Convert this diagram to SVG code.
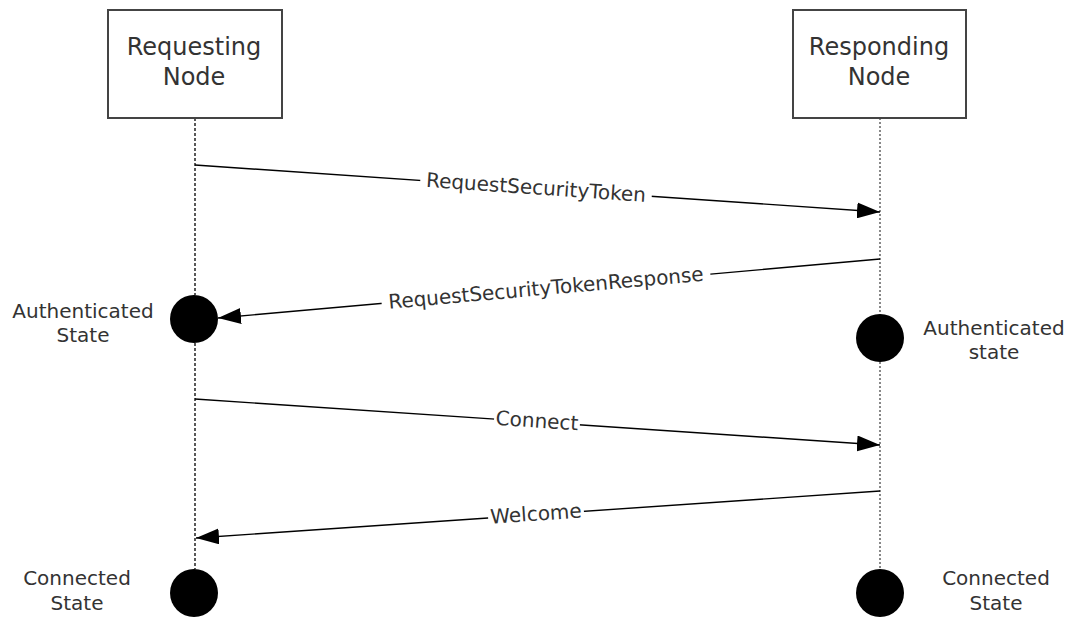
<svg xmlns="http://www.w3.org/2000/svg" width="1069" height="617" viewBox="0 0 1069 617">
<defs>
<marker id="ah" markerUnits="userSpaceOnUse" markerWidth="24" markerHeight="16" refX="23" refY="8" orient="auto">
<path d="M0,0 L23,8 L0,16 Z" fill="#000"/>
</marker>
</defs>
<style>
text{font-family:"DejaVu Sans",Verdana,sans-serif;fill:#333}
.lbl{font-size:20px;text-anchor:middle}
.box{fill:#fff;stroke:#444;stroke-width:2}
.big{font-size:24px;text-anchor:middle}
.msg{stroke:#000;stroke-width:1.4;fill:none;marker-end:url(#ah)}
.bg{fill:#fff}
.dot{fill:#000}
</style>
<rect width="1069" height="617" fill="#fff"/>
<g id="lifelines">
<line x1="195" y1="118" x2="195" y2="295" stroke="#000" stroke-width="1.3" stroke-dasharray="3,2"/>
<line x1="195" y1="343" x2="195" y2="569" stroke="#000" stroke-width="1.3" stroke-dasharray="3,2"/>
<line x1="880" y1="118" x2="880" y2="314" stroke="#888" stroke-width="2" stroke-dasharray="2,2"/>
<line x1="880" y1="362" x2="880" y2="569" stroke="#888" stroke-width="2" stroke-dasharray="2,2"/>
</g>
<g id="requesting-node">
<rect class="box" x="108" y="10" width="174" height="108"/>
<text class="big" x="194" y="55">Requesting</text>
<text class="big" x="194" y="85">Node</text>
</g>
<g id="responding-node">
<rect class="box" x="793" y="10" width="173" height="108"/>
<text class="big" x="879" y="55">Responding</text>
<text class="big" x="879" y="85">Node</text>
</g>
<g id="connectors">
<line class="msg" x1="195" y1="165" x2="880" y2="212"/>
<line class="msg" x1="880" y1="259" x2="218" y2="318"/>
<line class="msg" x1="195" y1="399" x2="880" y2="445"/>
<line class="msg" x1="880" y1="491" x2="196" y2="538"/>
<g transform="translate(536,188.4) rotate(3.92)">
<rect class="bg" x="-116" y="-8" width="232" height="16"/>
<text class="lbl" x="0" y="6">RequestSecurityToken</text>
</g>
<g transform="translate(546,288.8) rotate(-5.09)">
<rect class="bg" x="-165" y="-8" width="330" height="16"/>
<text class="lbl" x="0" y="6">RequestSecurityTokenResponse</text>
</g>
<g transform="translate(537,421.6) rotate(3.84)">
<rect class="bg" x="-43" y="-8" width="86" height="16"/>
<text class="lbl" x="0" y="6">Connect</text>
</g>
<g transform="translate(536,514.6) rotate(-3.93)">
<rect class="bg" x="-48" y="-8" width="96" height="16"/>
<text class="lbl" x="0" y="6">Welcome</text>
</g>
</g>
<g id="req-auth-state">
<circle class="dot" cx="194" cy="319" r="24"/>
<text class="lbl" x="83" y="318">Authenticated</text>
<text class="lbl" x="83" y="342">State</text>
</g>
<g id="resp-auth-state">
<circle class="dot" cx="880" cy="338" r="24"/>
<text class="lbl" x="994" y="335">Authenticated</text>
<text class="lbl" x="994" y="359">state</text>
</g>
<g id="req-connected-state">
<circle class="dot" cx="194" cy="593" r="24"/>
<text class="lbl" x="77" y="585">Connected</text>
<text class="lbl" x="77" y="610">State</text>
</g>
<g id="resp-connected-state">
<circle class="dot" cx="880" cy="593" r="24"/>
<text class="lbl" x="996" y="585">Connected</text>
<text class="lbl" x="996" y="610">State</text>
</g>
</svg>
